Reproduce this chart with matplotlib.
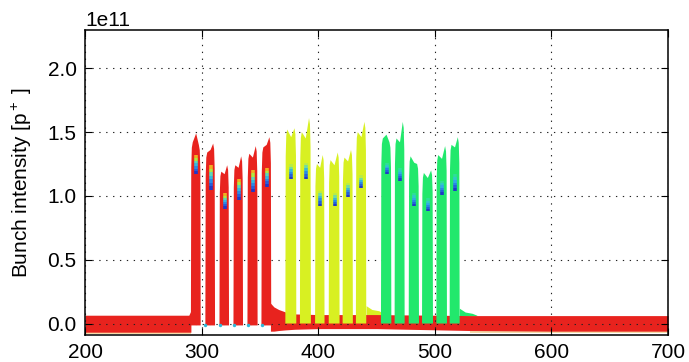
import numpy as np
import matplotlib
matplotlib.use("Agg")
import matplotlib.pyplot as plt

plt.rcParams['font.family'] = ['Liberation Sans', 'DejaVu Sans']
plt.rcParams['mathtext.fontset'] = 'custom'
plt.rcParams['mathtext.rm'] = 'Liberation Sans'
plt.rcParams['mathtext.it'] = 'Liberation Sans'

SCALE = 1e11

# ---- data (intensities in units of 1e11 p+) ----
# group 1 (red)
g1_start = [290.5, 302.9, 315.0, 327.0, 339.0, 351.0]
g1_end   = [299.5, 311.8, 323.8, 335.8, 348.3, 360.0]
g1_left  = [1.42, 1.34, 1.19, 1.24, 1.33, 1.38]
g1_peak  = [1.49, 1.36, 1.17, 1.22, 1.30, 1.40]
g1_right = [1.40, 1.41, 1.24, 1.31, 1.39, 1.46]
g1_nlo   = [1.17, 1.05, 0.90, 0.97, 1.03, 1.07]
g1_nhi   = [1.32, 1.24, 1.02, 1.13, 1.20, 1.22]

# group 2 (yellow)
g2_start = [371.5, 384.0, 397.0, 408.7, 420.6, 432.0]
g2_end   = [381.5, 394.0, 405.7, 418.6, 430.0, 441.5]
g2_left  = [1.52, 1.50, 1.25, 1.28, 1.30, 1.50]
g2_peak  = [1.46, 1.45, 1.22, 1.24, 1.27, 1.46]
g2_right = [1.53, 1.61, 1.32, 1.34, 1.36, 1.58]
g2_nlo   = [1.13, 1.13, 0.92, 0.92, 0.99, 1.06]
g2_nhi   = [1.25, 1.26, 1.04, 1.02, 1.10, 1.16]

# group 3 (green)
g3_start = [453.5, 465.2, 477.3, 488.7, 501.0, 512.4]
g3_end   = [463.0, 474.4, 486.7, 498.7, 510.7, 521.6]
g3_left  = [1.45, 1.45, 1.31, 1.18, 1.32, 1.40]
g3_peak  = [1.48, 1.42, 1.26, 1.14, 1.29, 1.38]
g3_right = [1.42, 1.58, 1.25, 1.20, 1.39, 1.46]
g3_nlo   = [1.17, 1.12, 0.92, 0.88, 1.01, 1.04]
g3_nhi   = [1.26, 1.22, 1.02, 0.98, 1.12, 1.17]

# baseline noise band (two segments)
band1_x  = [200, 289, 290.8]
band1_hi = [0.065, 0.065, 0.10]
band1_lo = [-0.068, -0.068, -0.068]
band2_x  = [359, 362, 366, 372, 380, 400, 450, 530, 600, 700]
band2_hi = [0.16, 0.13, 0.11, 0.09, 0.075, 0.07, 0.07, 0.062, 0.062, 0.062]
band2_lo = [-0.06, -0.06, -0.055, -0.05, -0.045, -0.04, -0.04, -0.055, -0.06, -0.06]

# shelves after trains
shelf2_x  = [441.0, 446.0, 452.0, 454.0]
shelf2_hi = [0.14, 0.11, 0.10, 0.09]
shelf3_x  = [521.0, 526.0, 532.0, 536.0]
shelf3_hi = [0.12, 0.09, 0.08, 0.065]

xticks = [200, 300, 400, 500, 600, 700]
yticks = [0.0, 0.5, 1.0, 1.5, 2.0]

RED = '#e8231e'
YEL = '#d8f022'
GRN = '#22e86c'
notch_cols = {
    'g1': ['#2038c8', '#2460dc', '#2a8ae6', '#34b8e0', '#5cd8b8', '#b0e840', '#f0b020'],
    'g2': ['#2038c8', '#2460dc', '#2a8ae6', '#38b8d8', '#70dca0', '#b8ec48'],
    'g3': ['#2038c8', '#2460dc', '#2a84e6', '#32a8e8', '#30c8c8', '#2ede98'],
}

fig = plt.figure(figsize=(6.89, 3.62), dpi=100)
ax = fig.add_axes([0.1234, 0.0746, 0.8462, 0.8425])

# baseline band
ax.fill_between(band1_x, np.array(band1_lo) * SCALE, np.array(band1_hi) * SCALE,
                color=RED, lw=0, zorder=2)
ax.fill_between(band1_x, np.array(band1_lo) * SCALE - 0.012 * SCALE,
                np.array(band1_lo) * SCALE, color='#f0b040', alpha=0.45, lw=0, zorder=1)
ax.fill_between(band2_x, np.array(band2_lo) * SCALE, np.array(band2_hi) * SCALE,
                color=RED, lw=0, zorder=2)
ax.fill_between([530, 700], [-0.072 * SCALE] * 2, [-0.06 * SCALE] * 2,
                color='#e8b040', alpha=0.45, lw=0, zorder=1)
ax.fill_between(shelf2_x, [0.06 * SCALE] * 4, np.array(shelf2_hi) * SCALE,
                color=YEL, lw=0, zorder=1.5)
ax.fill_between(shelf3_x, [0.06 * SCALE] * 4, np.array(shelf3_hi) * SCALE,
                color=GRN, lw=0, zorder=1.5)


def draw_group(starts, ends, left, peak, right, nlo, nhi, color, ncols, base, z):
    for s, e, l, p, r, lo, hi in zip(starts, ends, left, peak, right, nlo, nhi):
        c = 0.5 * (s + e) + 0.3
        xs = [s + 0.3, s + 0.6, s + 1.1, s + 1.9, c, e - 1.9, e - 1.1, e - 0.6, e - 0.3]
        ys = [base, l * 0.86, l * 0.97, l, p, r, r * 0.97, r * 0.86, base]
        ax.fill(xs, np.array(ys) * SCALE, color=color, lw=0, zorder=z)
        n = len(ncols)
        edges = np.linspace(lo, hi, n + 1)
        for k in range(n):
            ax.plot([c, c], [edges[k] * SCALE, edges[k + 1] * SCALE],
                    color=ncols[k], lw=2.6, solid_capstyle='butt', zorder=z + 0.1)


draw_group(g3_start, g3_end, g3_left, g3_peak, g3_right, g3_nlo, g3_nhi,
           GRN, notch_cols['g3'], 0.0, 3)
draw_group(g2_start, g2_end, g2_left, g2_peak, g2_right, g2_nlo, g2_nhi,
           YEL, notch_cols['g2'], 0.0, 3)
draw_group(g1_start, g1_end, g1_left, g1_peak, g1_right, g1_nlo, g1_nhi,
           RED, notch_cols['g1'], -0.015, 4)
# small cyan tips at the bottom of train-1 bunches
ax.scatter([v + 0.4 for v in g1_start[1:]], [-0.012 * SCALE] * 5, s=6,
           color='#30b8d8', lw=0, zorder=4.5)

ax.set_xlim(200, 700)
ax.set_ylim(-0.09 * SCALE, 2.3 * SCALE)
ax.set_xticks(xticks)
ax.set_yticks([v * SCALE for v in yticks])
ax.tick_params(direction='in', top=True, right=True, length=5, width=0.8,
               labelsize=15, pad=6)
ax.yaxis.get_offset_text().set_fontsize(15)
ax.grid(True, color='#222222', linestyle=(0, (1.2, 5)), lw=0.8)
ax.set_axisbelow(False)
for sp in ax.spines.values():
    sp.set_linewidth(1.1)
    sp.set_zorder(10)
ax.set_ylabel('Bunch intensity [p$^+$ ]', fontsize=15, labelpad=10)

fig.savefig('out.png', dpi=100)
